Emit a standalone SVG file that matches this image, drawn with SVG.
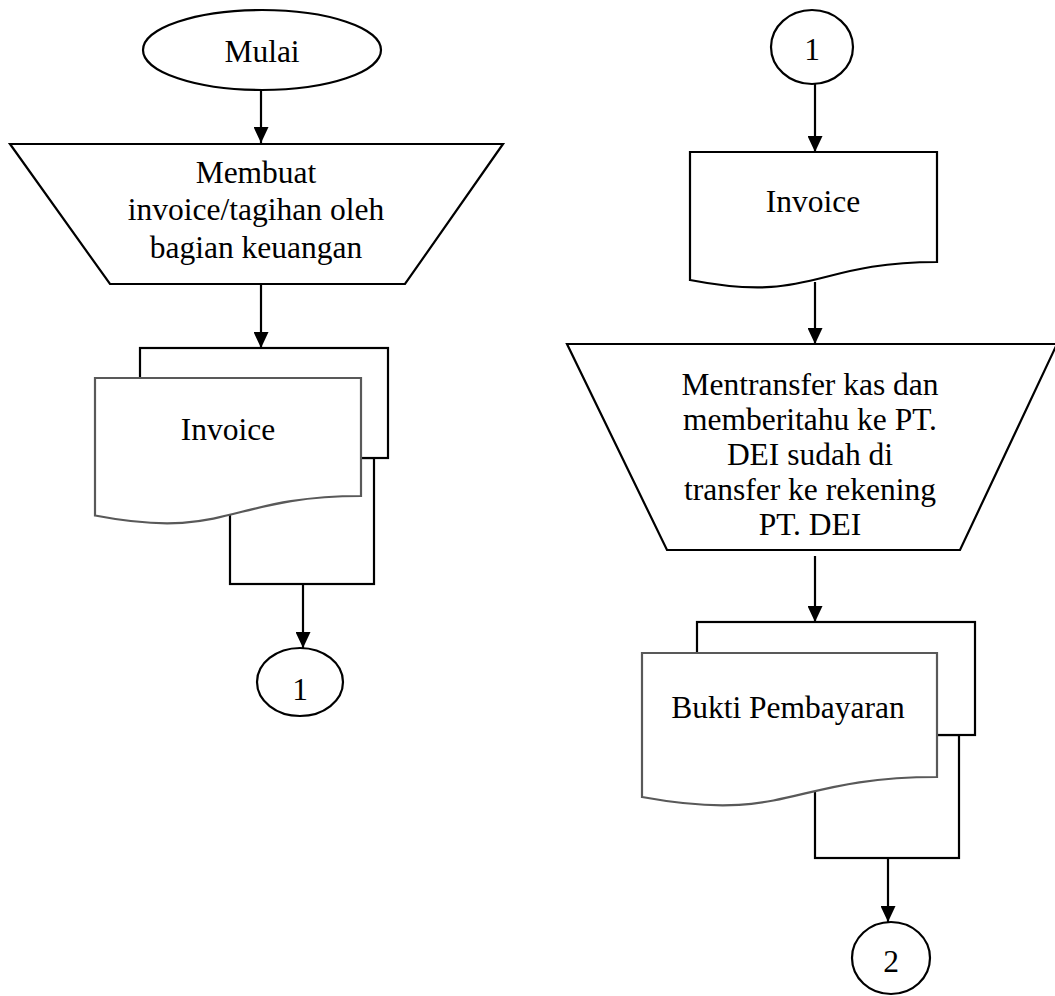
<svg xmlns="http://www.w3.org/2000/svg" width="1055" height="996" viewBox="0 0 1055 996">
<style>
.s{fill:#fff;stroke:#000;stroke-width:2.2}
.f{fill:#fff;stroke:#595959;stroke-width:2.2}
.t{font-family:"Liberation Serif","Times New Roman",serif;font-size:31.5px;fill:#000;text-anchor:middle}
.c{stroke:#000;stroke-width:2.2;fill:none}
</style>
<defs>
<marker id="ah" markerUnits="userSpaceOnUse" markerWidth="16" markerHeight="15" refX="16" refY="7.5" orient="auto">
<path d="M0,0 L16,7.5 L0,15 Z" fill="#000"/>
</marker>
</defs>
<rect width="1055" height="996" fill="#fff"/>
<g id="connectors">
<line class="c" x1="261" y1="90" x2="261" y2="143" marker-end="url(#ah)"/>
<line class="c" x1="261" y1="284" x2="261" y2="348" marker-end="url(#ah)"/>
<line class="c" x1="303" y1="584" x2="303" y2="648" marker-end="url(#ah)"/>
<line class="c" x1="815" y1="84" x2="815" y2="152" marker-end="url(#ah)"/>
<line class="c" x1="815" y1="282" x2="815" y2="344" marker-end="url(#ah)"/>
<line class="c" x1="815" y1="556" x2="815" y2="622" marker-end="url(#ah)"/>
<line class="c" x1="888" y1="858" x2="888" y2="922" marker-end="url(#ah)"/>
</g>
<g id="mulai">
<ellipse class="s" cx="262" cy="50" rx="119" ry="40"/>
<text class="t" x="262" y="62">Mulai</text>
</g>
<g id="membuat">
<polygon class="s" points="10,144 503,144 405,284 110,284"/>
<text class="t" x="256" y="183">Membuat</text>
<text class="t" x="256" y="220">invoice/tagihan oleh</text>
<text class="t" x="256" y="258">bagian keuangan</text>
</g>
<g id="invoice-left">
<rect class="s" x="230" y="458" width="144" height="126"/>
<rect class="s" x="140" y="348" width="248" height="110"/>
<path class="f" d="M95,378 H361 V496 C228,496 228,541 95,515.5 Z"/>
<text class="t" x="228" y="440">Invoice</text>
</g>
<g id="conn1-left">
<ellipse class="s" cx="300" cy="682" rx="43" ry="34"/>
<text class="t" x="300" y="700">1</text>
</g>
<g id="conn1-right">
<ellipse class="s" cx="812" cy="47" rx="41" ry="37"/>
<text class="t" x="812" y="60">1</text>
</g>
<g id="invoice-right">
<path class="s" d="M690,152 H937 V262 C813.5,262 813.5,304 690,280 Z"/>
<text class="t" x="813" y="212">Invoice</text>
</g>
<g id="mentransfer">
<polygon class="s" points="567,344 1057,344 960,550 667,550"/>
<text class="t" x="810" y="395">Mentransfer kas dan</text>
<text class="t" x="810" y="430">memberitahu ke PT.</text>
<text class="t" x="810" y="465">DEI sudah di</text>
<text class="t" x="810" y="500">transfer ke rekening</text>
<text class="t" x="810" y="535">PT. DEI</text>
</g>
<g id="bukti">
<rect class="s" x="815" y="735" width="144" height="123"/>
<rect class="s" x="697" y="622" width="278" height="113"/>
<path class="f" d="M642,653 H937 V777 C789.5,777 789.5,824 642,797 Z"/>
<text class="t" x="788" y="718">Bukti Pembayaran</text>
</g>
<g id="conn2">
<ellipse class="s" cx="891" cy="958" rx="39" ry="36"/>
<text class="t" x="891" y="972">2</text>
</g>
</svg>
